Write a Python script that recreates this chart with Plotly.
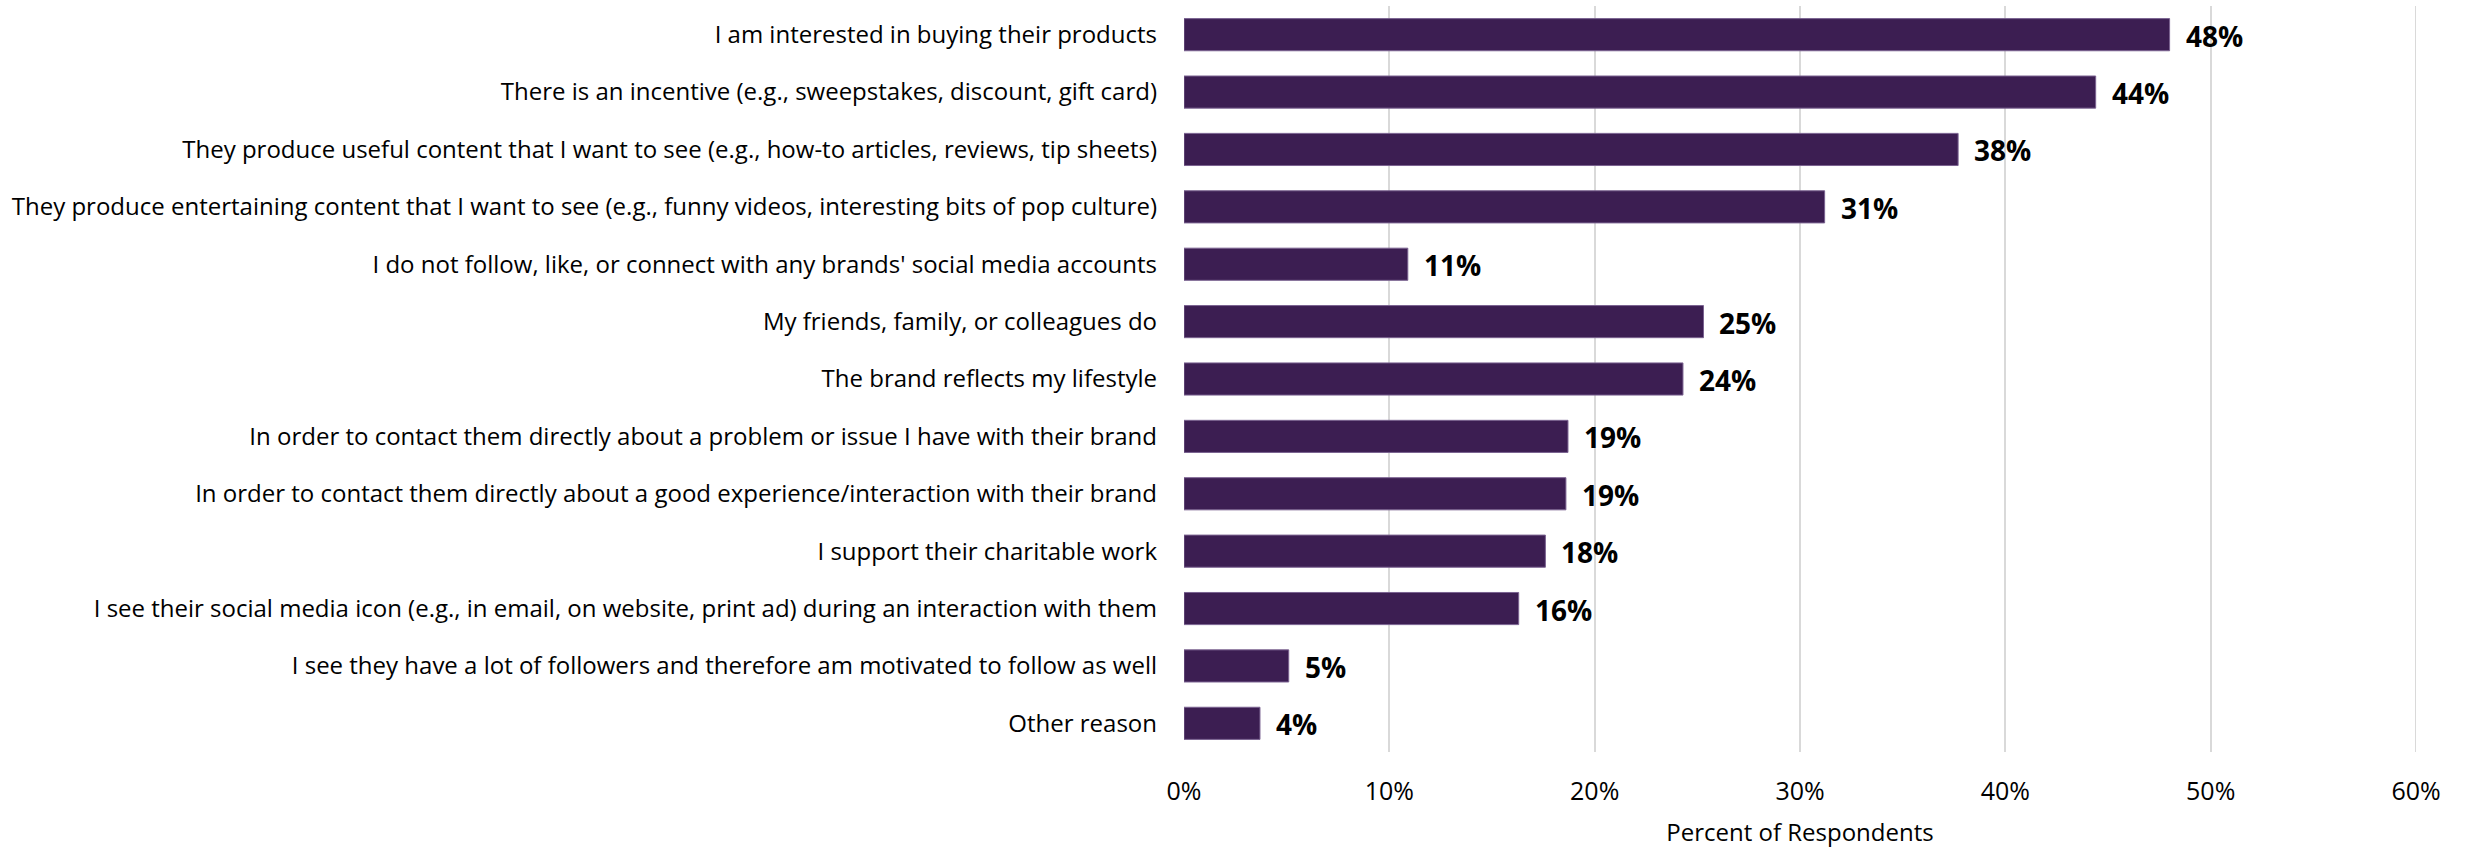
import plotly.graph_objects as go

# Reasons for following brands on social media (share of respondents, %)
reasons = [
    "I am interested in buying their products",
    "There is an incentive (e.g., sweepstakes, discount, gift card)",
    "They produce useful content that I want to see (e.g., how-to articles, reviews, tip sheets)",
    "They produce entertaining content that I want to see (e.g., funny videos, interesting bits of pop culture)",
    "I do not follow, like, or connect with any brands' social media accounts",
    "My friends, family, or colleagues do",
    "The brand reflects my lifestyle",
    "In order to contact them directly about a problem or issue I have with their brand",
    "In order to contact them directly about a good experience/interaction with their brand",
    "I support their charitable work",
    "I see their social media icon (e.g., in email, on website, print ad) during an interaction with them",
    "I see they have a lot of followers and therefore am motivated to follow as well",
    "Other reason",
]
percent = [48.0, 44.4, 37.7, 31.2, 10.9, 25.3, 24.3, 18.7, 18.6, 17.6, 16.3, 5.1, 3.7]

x_ticks = [0, 10, 20, 30, 40, 50, 60]
x_tick_labels = ["0%", "10%", "20%", "30%", "40%", "50%", "60%"]

BAR_COLOR = "#3c1e52"
GRID_COLOR = "#d9d9d9"
FONT = "Open Sans"

fig = go.Figure(
    go.Bar(
        x=percent,
        y=reasons,
        orientation="h",
        marker=dict(color=BAR_COLOR, line=dict(color="#7a6290", width=1)),
        hoverinfo="x+y",
    )
)

# Value labels to the right of each bar
for r, v in zip(reasons, percent):
    fig.add_annotation(
        x=v, y=r, text=f"<b>{v:.0f}%</b>", showarrow=False,
        xanchor="left", yanchor="middle", xshift=14, yshift=-1,
        font=dict(family=FONT, size=28, color="#000000"),
    )

# Gridline at the right edge of the axis range
fig.add_shape(
    type="line", xref="x", yref="paper", x0=x_ticks[-1], x1=x_ticks[-1],
    y0=0, y1=1, line=dict(color=GRID_COLOR, width=2), layer="below",
)

fig.update_layout(
    width=2473,
    height=848,
    margin=dict(l=1184, r=57, t=6, b=96),
    paper_bgcolor="white",
    plot_bgcolor="white",
    bargap=0.44,
    showlegend=False,
    font=dict(family=FONT, color="#000000"),
    xaxis=dict(
        range=[0, 60],
        tickvals=x_ticks,
        ticktext=x_tick_labels,
        showgrid=True,
        gridcolor=GRID_COLOR,
        gridwidth=2,
        zeroline=False,
        showline=False,
        ticks="",
        ticklabelstandoff=22,
        tickfont=dict(family=FONT, size=25, color="#000000"),
        title=dict(text="Percent of Respondents", standoff=18,
                   font=dict(family=FONT, size=24, color="#000000")),
        automargin=False,
    ),
    yaxis=dict(
        autorange="reversed",
        showgrid=False,
        zeroline=False,
        showline=False,
        ticks="",
        ticklabelstandoff=26,
        tickfont=dict(family=FONT, size=24, color="#000000"),
        automargin=False,
    ),
)

fig.write_html("out.html")
